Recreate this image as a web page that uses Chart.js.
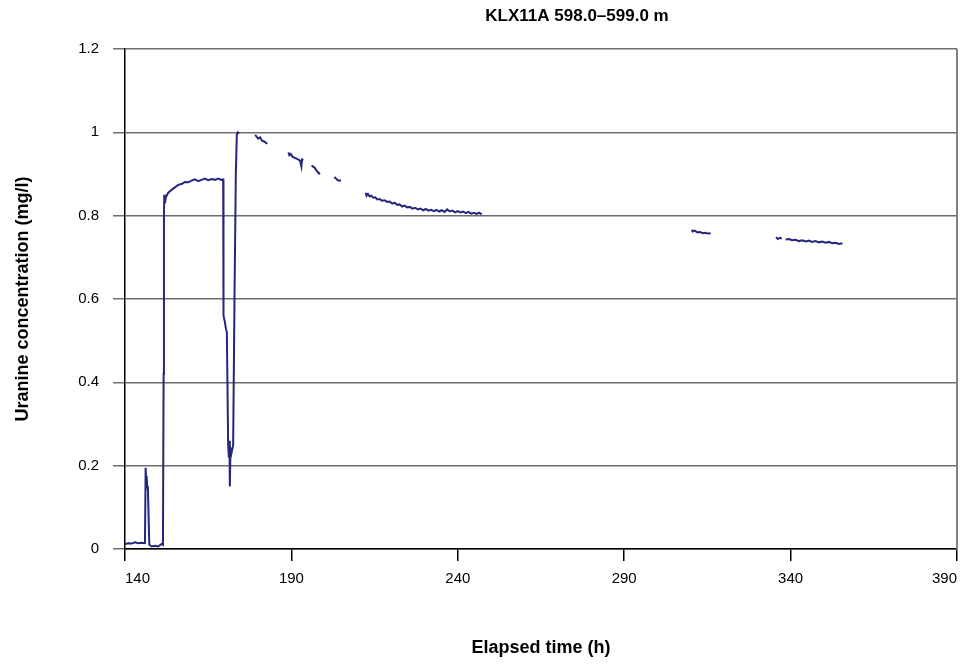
<!DOCTYPE html>
<html>
<head>
<meta charset="utf-8">
<title>KLX11A 598.0–599.0 m</title>
<script src="https://cdn.jsdelivr.net/npm/chart.js@4.4.1/dist/chart.umd.min.js"></script>
<style>
    html, body { margin: 0; padding: 0; background: #fff; }
    #wrap { width: 972px; height: 666px; position: relative; }
</style>
</head>
<body>
<div id="wrap"><canvas id="grafica"></canvas></div>
<script>
// --- DATOS ---
// null = hueco entre tramos de medicion
const tiempo = [
    140.0, 141.0, 142.0, 143.0, 144.0, 145.0, 146.0, 146.2, 146.4, 146.5, 146.7, 146.9,
    147.3, 148.0, 149.0, 150.0, 151.0, 151.4, 151.6, 151.7, 151.8, 152.0, 152.3, 153.0,
    154.0, 155.0, 156.0, 157.0, 158.0, 159.0, 160.0, 161.0, 162.0, 163.0, 164.0, 165.0,
    166.0, 167.0, 168.0, 169.0, 169.5, 169.6, 170.0, 170.3, 170.6, 171.0, 171.2, 171.4,
    171.5, 171.7, 172.0, 172.5, 172.9, 173.3, 173.6, 173.9, 174.3,
    null,
    179.1, 179.5, 180.0, 180.6, 181.2, 181.8, 182.5, 182.7,
    null,
    189.1, 189.4, 189.8, 190.4, 191.2, 192.0, 192.6, 193.0, 193.2, 193.6,
    null,
    196.1, 196.4, 196.9, 197.4, 197.9, 198.3, 198.6,
    null,
    202.9, 203.3, 203.8, 204.3, 204.9,
    null,
    212.3, 212.6, 213.0, 213.5, 214.0, 214.6, 215.2, 215.8, 216.5, 217.2, 218.0, 218.8,
    219.5, 220.3, 221.0, 221.8, 222.5, 223.3, 224.0, 224.8, 225.6, 226.4, 227.2, 228.0,
    228.8, 229.6, 230.4, 231.2, 232.0, 232.8, 233.6, 234.4, 235.2, 236.0, 236.8, 237.6,
    238.4, 239.2, 240.0, 240.8, 241.6, 242.4, 243.2, 244.0, 244.8, 245.6, 246.4, 247.2,
    null,
    310.3, 310.6, 311.2, 312.0, 312.8, 313.6, 314.4, 315.2, 316.0,
    null,
    335.6, 336.2, 336.8, 337.4,
    null,
    338.5, 339.5, 340.5, 341.5, 342.5, 343.5, 344.5, 345.5, 346.5, 347.5, 348.5, 349.5,
    350.5, 351.5, 352.5, 353.5, 354.5, 355.6
];

const uranina = [
    0.012, 0.014, 0.013, 0.016, 0.014, 0.015, 0.014, 0.195, 0.160, 0.175, 0.150, 0.140,
    0.010, 0.006, 0.008, 0.006, 0.012, 0.010, 0.420, 0.800, 0.850, 0.830, 0.845, 0.855,
    0.862, 0.868, 0.874, 0.876, 0.881, 0.880, 0.884, 0.887, 0.883, 0.886, 0.889, 0.885,
    0.888, 0.886, 0.889, 0.886, 0.887, 0.560, 0.545, 0.530, 0.520, 0.250, 0.220, 0.260,
    0.150, 0.240, 0.230, 0.250, 0.600, 0.900, 0.995, 1.000, 0.997,
    null,
    0.994, 0.990, 0.985, 0.988, 0.980, 0.978, 0.974, 0.976,
    null,
    0.952, 0.945, 0.948, 0.941, 0.938, 0.935, 0.932, 0.918, 0.935, 0.933,
    null,
    0.921, 0.918, 0.916, 0.910, 0.905, 0.901, 0.903,
    null,
    0.893, 0.890, 0.886, 0.884, 0.885,
    null,
    0.855, 0.848, 0.852, 0.846, 0.848, 0.843, 0.844, 0.839, 0.840, 0.836, 0.837, 0.833,
    0.834, 0.829, 0.831, 0.826, 0.827, 0.822, 0.824, 0.820, 0.821, 0.817, 0.819, 0.815,
    0.817, 0.813, 0.816, 0.812, 0.814, 0.811, 0.814, 0.810, 0.813, 0.809, 0.815, 0.810,
    0.812, 0.808, 0.811, 0.808, 0.810, 0.806, 0.809, 0.805, 0.807, 0.804, 0.807, 0.803,
    null,
    0.766, 0.762, 0.764, 0.760, 0.761, 0.758, 0.759, 0.757, 0.758,
    null,
    0.748, 0.744, 0.747, 0.745,
    null,
    0.743, 0.744, 0.741, 0.742, 0.739, 0.741, 0.738, 0.740, 0.737, 0.739, 0.736, 0.738,
    0.735, 0.737, 0.734, 0.735, 0.732, 0.734
];

const ticksX = [140, 190, 240, 290, 340, 390];
const ticksY = [0, 0.2, 0.4, 0.6, 0.8, 1, 1.2];

const tituloGrafica = "KLX11A 598.0\u2013599.0 m";
const tituloX = "Elapsed time (h)";
const tituloY = "Uranine concentration (mg/l)";

const FUENTE = "'Liberation Sans', Arial, sans-serif";

// puntos {x, y}; los null cortan la linea
const puntos = tiempo.map((t, i) => ({ x: t, y: uranina[i] }));

// titulo y borde derecho del area de trazado
const extrasPlugin = {
    id: 'extras',
    afterDraw(chart) {
        const { ctx, chartArea } = chart;
        ctx.save();
        ctx.strokeStyle = '#808080';
        ctx.lineWidth = 2;
        ctx.beginPath();
        ctx.moveTo(chartArea.right, chartArea.top);
        ctx.lineTo(chartArea.right, chartArea.bottom);
        ctx.stroke();

        ctx.fillStyle = '#000';
        ctx.font = "bold 17px " + FUENTE;
        ctx.textAlign = 'center';
        ctx.textBaseline = 'middle';
        ctx.fillText(tituloGrafica, 577, 16);
        ctx.restore();
    }
};

new Chart(document.getElementById('grafica'), {
    type: 'line',
    data: {
        datasets: [{
            label: tituloY,
            data: puntos,
            borderColor: '#26267c',
            borderWidth: 2,
            pointRadius: 0,
            tension: 0,
            spanGaps: false
        }]
    },
    options: {
        responsive: true,
        maintainAspectRatio: false,
        animation: false,
        layout: { padding: { top: 49, right: 15, left: 0, bottom: 0 } },
        plugins: {
            legend: { display: false },
            tooltip: { enabled: false }
        },
        scales: {
            x: {
                type: 'linear',
                min: ticksX[0],
                max: ticksX[ticksX.length - 1],
                afterBuildTicks: (scale) => { scale.ticks = ticksX.map(v => ({ value: v })); },
                afterFit: (scale) => { scale.height = 117; },
                grid: { drawOnChartArea: false, drawTicks: true, tickLength: 12, color: '#000', lineWidth: 1.5 },
                border: { color: '#000', width: 1.5 },
                ticks: {
                    color: '#000',
                    font: { family: FUENTE, size: 15 },
                    padding: 9,
                    align: 'inner',
                    maxRotation: 0,
                    callback: (v) => String(v)
                },
                title: {
                    display: true,
                    text: tituloX,
                    color: '#000',
                    font: { family: FUENTE, size: 18, weight: 'bold' },
                    padding: { top: 0, bottom: 7 }
                }
            },
            y: {
                min: 0,
                max: 1.2,
                afterBuildTicks: (scale) => { scale.ticks = ticksY.map(v => ({ value: v })); },
                afterFit: (scale) => { scale.width = 125; },
                grid: { color: '#6e6e6e', lineWidth: 1.5, tickLength: 12 },
                border: { color: '#000', width: 1.5 },
                ticks: {
                    color: '#000',
                    font: { family: FUENTE, size: 15 },
                    padding: 14,
                    callback: (v) => String(Math.round(v * 10) / 10)
                },
                title: {
                    display: true,
                    text: tituloY,
                    color: '#000',
                    font: { family: FUENTE, size: 18, weight: 'bold' },
                    padding: { top: 12, bottom: 0 }
                }
            }
        }
    },
    plugins: [extrasPlugin]
});
</script>
</body>
</html>
